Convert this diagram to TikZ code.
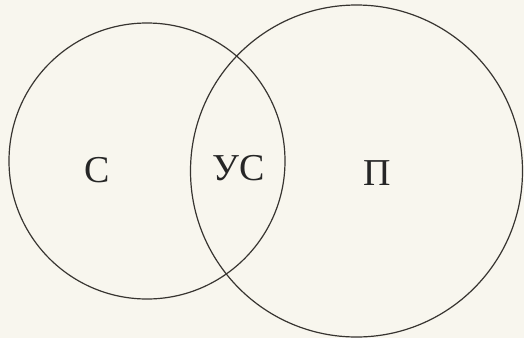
\documentclass[tikz,border=0pt]{standalone}
\usepackage{fontspec}
\setmainfont{Liberation Serif}
\definecolor{bgcol}{RGB}{248,246,238}
\definecolor{linecol}{RGB}{55,52,48}
\begin{document}
\begin{tikzpicture}[x=1pt,y=-1pt,
  ring/.style={draw=linecol,line width=1.2pt},
  lbl/.style={font=\fontsize{38}{38}\selectfont,text=black!85,inner sep=0pt}]
\fill[bgcol] (0,0) rectangle (524,338);
\useasboundingbox (0,0) rectangle (524,338);
\draw[ring] (147,161) circle[radius=138];
\draw[ring] (356.5,171) circle[radius=166];
\node[lbl] (c) at (97,170) {С};
\node[lbl] (uc) at (239,168) {УС};
\node[lbl] (p) at (377,173) {П};
\end{tikzpicture}
\end{document}
